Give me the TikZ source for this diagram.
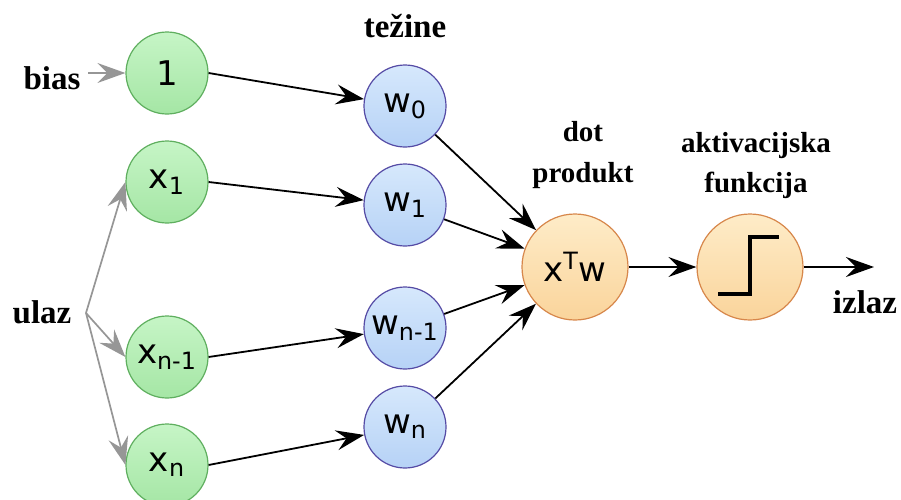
\documentclass[tikz,border=0pt]{standalone}
\usepackage{fontspec}
\setmainfont{Liberation Serif}
\newfontfamily\nodefont{DejaVu Sans}
\usetikzlibrary{arrows.meta}
\definecolor{inptop}{RGB}{198,245,198}
\definecolor{inpbot}{RGB}{165,230,165}
\definecolor{inpline}{RGB}{95,175,95}
\definecolor{wtop}{RGB}{214,232,252}
\definecolor{wbot}{RGB}{182,210,246}
\definecolor{wline}{RGB}{85,75,165}
\definecolor{otop}{RGB}{254,236,200}
\definecolor{obot}{RGB}{250,212,155}
\definecolor{oline}{RGB}{215,135,75}
\definecolor{arrgray}{RGB}{150,150,150}

\begin{document}
\begin{tikzpicture}[x=0.5pt,y=-0.5pt,
    neuron/.style={circle,draw,line width=0.6pt,inner sep=0pt,minimum size=41pt,
      font=\nodefont\fontsize{17}{17}\selectfont},
    inp/.style={neuron,draw=inpline,top color=inptop,bottom color=inpbot},
    wgt/.style={neuron,draw=wline,top color=wtop,bottom color=wbot},
    big/.style={neuron,minimum size=53pt,draw=oline,top color=otop,bottom color=obot},
    lbl/.style={anchor=base,font=\bfseries\fontsize{16.5}{18}\selectfont},
    sublbl/.style={anchor=base,font=\bfseries\fontsize{14.5}{16}\selectfont},
    conn/.style={-{Stealth[length=14pt,width=10pt,inset=5pt]},line width=0.9pt,draw=black},
    gr/.style={-{Stealth[length=14pt,width=10pt,inset=5pt]},line width=0.85pt,draw=arrgray}]
  \useasboundingbox (0,0) rectangle (901,499);
  \node[inp] (one) at (167,73) {1};
  \node[inp] (x1) at (167,182) {x\textsubscript{1}};
  \node[inp] (xm) at (167,357) {x\textsubscript{n-1}};
  \node[inp] (xn) at (167,465) {x\textsubscript{n}};
  \node[wgt] (w0) at (405,106) {w\textsubscript{0}};
  \node[wgt] (w1) at (405,205) {w\textsubscript{1}};
  \node[wgt] (wm) at (405,328) {w\textsubscript{n-1}};
  \node[wgt] (wn) at (405,427) {w\textsubscript{n}};
  \node[big] (dot) at (575,267) {x\textsuperscript{T}w};
  \node[big] (act) at (750,267) {};
  \draw[line width=1.6pt] (718,294) -- (750,294) -- (750,237) -- (779,237);

  \node[lbl] (bias) at (52,89) {bias};
  \node[lbl] (ulaz) at (42,323) {ulaz};
  \node[lbl] (izlaz) at (865,313) {izlaz};
  \node[lbl] (tez) at (405,37) {težine};
  \node[sublbl] (dotl) at (583,141) {dot};
  \node[sublbl] at (dotl.base) [yshift=-20.5pt] {produkt};
  \node[sublbl] (aktl) at (756,152) {aktivacijska};
  \node[sublbl] at (aktl.base) [yshift=-20pt] {funkcija};

  \coordinate (b0) at (88,73);
  \coordinate (split) at (86,313);
  \coordinate (out) at (874,267);

  \path (b0) edge[gr] (one);
  \path (split) edge[gr] (x1.west) edge[gr] (xm.west) edge[gr] (xn.west);
  \path (one.east) edge[conn] (w0);
  \path (x1.east) edge[conn] (w1);
  \path (xm.east) edge[conn] (wm);
  \path (xn.east) edge[conn] (wn);
  \path (w0) edge[conn] (dot);
  \path (w1) edge[conn] (dot);
  \path (wm) edge[conn] (dot);
  \path (wn) edge[conn] (dot);
  \path (dot) edge[conn] (act);
  \path (act) edge[conn] (out);
\end{tikzpicture}
\end{document}
